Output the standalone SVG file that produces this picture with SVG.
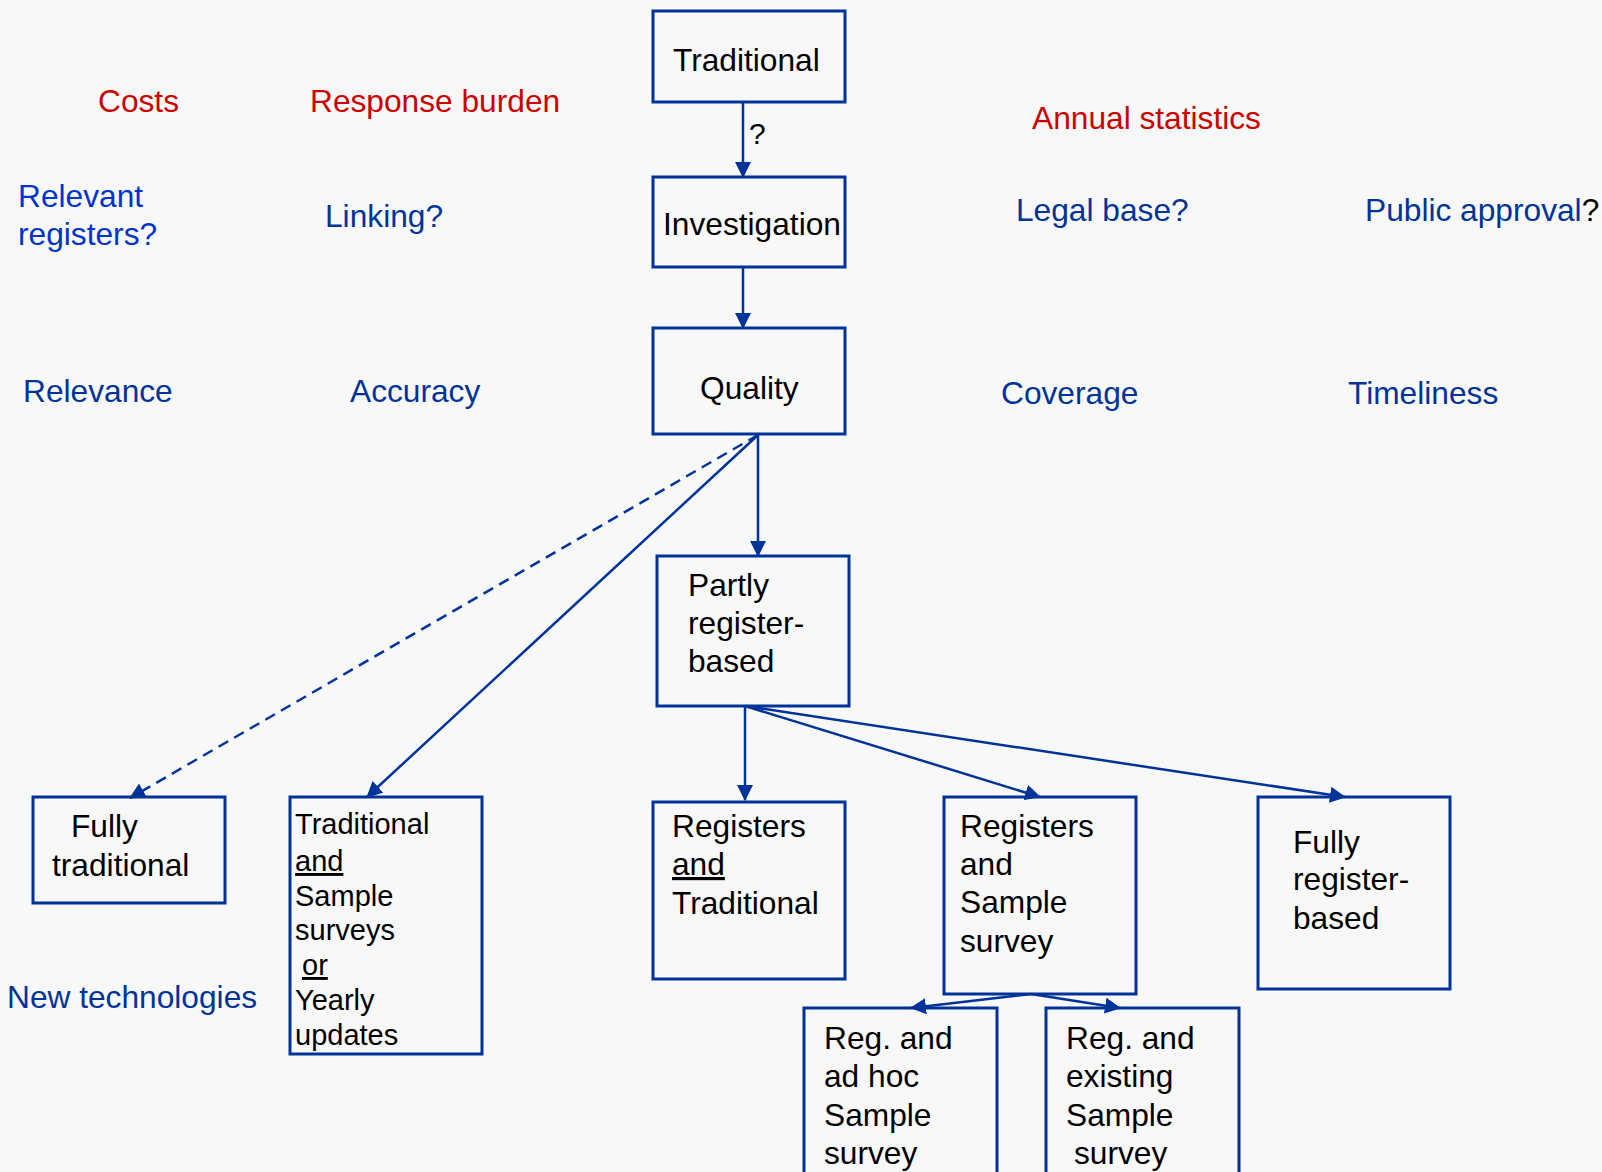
<svg xmlns="http://www.w3.org/2000/svg" width="1602" height="1172" viewBox="0 0 1602 1172">
<style>
text{font-family:"Liberation Sans",Arial,sans-serif;font-size:31.7px}
.n{fill:#000}
.r{fill:#CC0000}
.b{fill:#003399}
.bb{fill:#0033CC}
.box{fill:none;stroke:#003399;stroke-width:3}
.c{fill:none;stroke:#003399;stroke-width:2.5}
.d{stroke-dasharray:11 7}
.u{text-decoration:underline}
.s{font-size:29px}
</style>
<defs>
<marker id="ah" markerUnits="userSpaceOnUse" markerWidth="16" markerHeight="16" viewBox="0 0 16 16" refX="15" refY="8" orient="auto">
<path d="M0,0 L16,8 L0,16 Z" fill="#003399"/>
</marker>
</defs>
<rect width="1602" height="1172" fill="#F8F8F8"/>
<g id="labels">
<text class="r" x="98" y="112">Costs</text>
<text class="r" x="310" y="112">Response burden</text>
<text class="r" x="1032" y="129">Annual statistics</text>
<text class="bb" x="18" y="207">Relevant</text>
<text class="bb" x="18" y="245">registers?</text>
<text class="b" x="325" y="227">Linking?</text>
<text class="b" x="1016" y="221">Legal base?</text>
<text class="b" x="1365" y="221">Public approval<tspan class="n">?</tspan></text>
<text class="b" x="23" y="402">Relevance</text>
<text class="b" x="350" y="402">Accuracy</text>
<text class="b" x="1001" y="404">Coverage</text>
<text class="b" x="1348" y="404">Timeliness</text>
<text class="b" x="7" y="1008">New technologies</text>
</g>
<g id="connectors">
<line class="c" x1="743" y1="102" x2="743" y2="177" marker-end="url(#ah)"/>
<text class="n" x="749" y="144" style="font-size:30px">?</text>
<line class="c" x1="743" y1="267" x2="743" y2="328" marker-end="url(#ah)"/>
<line class="c" x1="758" y1="435" x2="758" y2="556" marker-end="url(#ah)"/>
<line class="c d" x1="758" y1="435" x2="130" y2="798" marker-end="url(#ah)"/>
<line class="c" x1="758" y1="435" x2="367" y2="797" marker-end="url(#ah)"/>
<line class="c" x1="745" y1="706" x2="745" y2="800" marker-end="url(#ah)"/>
<line class="c" x1="745" y1="706" x2="1040" y2="797" marker-end="url(#ah)"/>
<line class="c" x1="745" y1="706" x2="1345" y2="797" marker-end="url(#ah)"/>
<line class="c" x1="1031" y1="994" x2="911" y2="1008" marker-end="url(#ah)"/>
<line class="c" x1="1031" y1="994" x2="1120" y2="1008" marker-end="url(#ah)"/>
</g>
<g id="n-traditional">
<rect class="box" x="653" y="11" width="192" height="91"/>
<text class="n" x="673" y="71">Traditional</text>
</g>
<g id="n-investigation">
<rect class="box" x="653" y="177" width="192" height="90"/>
<text class="n" x="663" y="235">Investigation</text>
</g>
<g id="n-quality">
<rect class="box" x="653" y="328" width="192" height="106"/>
<text class="n" x="700" y="399">Quality</text>
</g>
<g id="n-partly">
<rect class="box" x="657" y="556" width="192" height="150"/>
<text class="n" x="688" y="596">Partly</text>
<text class="n" x="688" y="634">register-</text>
<text class="n" x="688" y="672">based</text>
</g>
<g id="n-fully-traditional">
<rect class="box" x="33" y="797" width="192" height="106"/>
<text class="n" x="71" y="837">Fully</text>
<text class="n" x="52" y="876">traditional</text>
</g>
<g id="n-trad-sample">
<rect class="box" x="290" y="797" width="192" height="257"/>
<text class="n s" x="295" y="834">Traditional</text>
<text class="n s u" x="295" y="871">and</text>
<text class="n s" x="295" y="906">Sample</text>
<text class="n s" x="295" y="940">surveys</text>
<text class="n s" x="302" y="975"><tspan class="u">or</tspan></text>
<text class="n s" x="295" y="1010">Yearly</text>
<text class="n s" x="295" y="1045">updates</text>
</g>
<g id="n-reg-trad">
<rect class="box" x="653" y="802" width="192" height="177"/>
<text class="n" x="672" y="837">Registers</text>
<text class="n u" x="672" y="875">and</text>
<text class="n" x="672" y="914">Traditional</text>
</g>
<g id="n-reg-sample">
<rect class="box" x="944" y="797" width="192" height="197"/>
<text class="n" x="960" y="837">Registers</text>
<text class="n" x="960" y="875">and</text>
<text class="n" x="960" y="913">Sample</text>
<text class="n" x="960" y="952">survey</text>
</g>
<g id="n-fully-register">
<rect class="box" x="1258" y="797" width="192" height="192"/>
<text class="n" x="1293" y="853">Fully</text>
<text class="n" x="1293" y="890">register-</text>
<text class="n" x="1293" y="929">based</text>
</g>
<g id="n-adhoc">
<rect class="box" x="804" y="1008" width="193" height="180"/>
<text class="n" x="824" y="1049">Reg. and</text>
<text class="n" x="824" y="1087">ad hoc</text>
<text class="n" x="824" y="1126">Sample</text>
<text class="n" x="824" y="1164">survey</text>
</g>
<g id="n-existing">
<rect class="box" x="1046" y="1008" width="193" height="180"/>
<text class="n" x="1066" y="1049">Reg. and</text>
<text class="n" x="1066" y="1087">existing</text>
<text class="n" x="1066" y="1126">Sample</text>
<text class="n" x="1074" y="1164">survey</text>
</g>
</svg>
